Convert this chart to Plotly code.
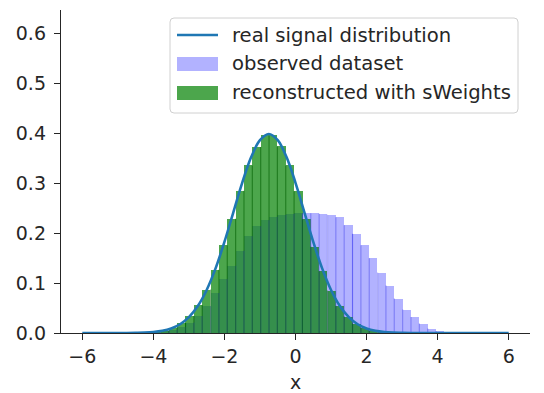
import plotly.graph_objects as go

# ---------------- data ----------------
bin_centers = [-4.15, -3.92, -3.68, -3.45, -3.21, -2.98, -2.74, -2.51, -2.27, -2.04,
               -1.80, -1.57, -1.33, -1.10, -0.86, -0.63, -0.39, -0.16, 0.08, 0.31,
               0.55, 0.78, 1.02, 1.25, 1.49, 1.72, 1.96, 2.19, 2.43, 2.66,
               2.90, 3.13, 3.37, 3.60, 3.84, 4.07, 4.31]
bin_width = 0.235

observed = [0.001, 0.002, 0.004, 0.007, 0.012, 0.021, 0.034, 0.054, 0.080, 0.108,
            0.135, 0.165, 0.194, 0.214, 0.226, 0.233, 0.237, 0.239, 0.240, 0.240,
            0.240, 0.239, 0.237, 0.232, 0.216, 0.199, 0.176, 0.150, 0.121, 0.095,
            0.069, 0.047, 0.032, 0.019, 0.009, 0.004, 0.0015]

reconstructed = [0.001, 0.003, 0.005, 0.011, 0.020, 0.034, 0.056, 0.087, 0.127, 0.176,
                 0.229, 0.285, 0.336, 0.373, 0.396, 0.396, 0.374, 0.336, 0.284, 0.228,
                 0.173, 0.124, 0.085, 0.054, 0.033, 0.019, 0.010, 0.005, 0.003, 0.001,
                 0.0, 0.0, 0.0, 0.0, 0.0, 0.0, 0.0]

curve_x = [-6.0, -4.75, -4.5, -4.25, -4.0, -3.75, -3.5, -3.25, -3.0, -2.75, -2.5,
           -2.25, -2.0, -1.75, -1.5, -1.25, -1.0, -0.75, -0.5, -0.25, 0.0, 0.25,
           0.5, 0.75, 1.0, 1.25, 1.5, 1.75, 2.0, 2.25, 2.5, 2.75, 3.0, 3.25, 6.0]
curve_y = [0.0, 0.0001, 0.0004, 0.0009, 0.0020, 0.0044, 0.0091, 0.0175, 0.0317,
           0.0540, 0.0863, 0.1295, 0.1826, 0.2420, 0.3011, 0.3521, 0.3867, 0.3989,
           0.3867, 0.3521, 0.3011, 0.2420, 0.1826, 0.1295, 0.0863, 0.0540, 0.0317,
           0.0175, 0.0091, 0.0044, 0.0020, 0.0009, 0.0004, 0.0001, 0.0]

x_ticks = [-6, -4, -2, 0, 2, 4, 6]
x_tick_text = ["\u22126", "\u22124", "\u22122", "0", "2", "4", "6"]
y_ticks = [0.0, 0.1, 0.2, 0.3, 0.4, 0.5, 0.6]

legend_labels = ["real signal distribution", "observed dataset", "reconstructed with sWeights"]

# ---------------- styling ----------------
W, H = 544, 393
ML, MR, MT, MB = 61, 14, 10, 60
FONT = "DejaVu Sans"
TXT = "#262626"
BLUE_LINE = "#1f77b4"
LAV = "rgba(0,0,255,0.3)"
GRN = "rgba(0,128,0,0.7)"


def separators(heights):
    """vertical lines at shared bin edges, up to the lower of the two neighbouring bars"""
    xs, ys = [], []
    for i in range(len(heights) - 1):
        h = min(heights[i], heights[i + 1])
        if h <= 0:
            continue
        e = (bin_centers[i] + bin_centers[i + 1]) / 2
        xs += [e, e, None]
        ys += [0, h, None]
    return xs, ys


fig = go.Figure()
fig.add_trace(go.Bar(x=bin_centers, y=observed, width=[bin_width] * len(bin_centers),
                     marker=dict(color=LAV, line=dict(width=0)),
                     name=legend_labels[1], showlegend=False))
sx, sy = separators(observed)
fig.add_trace(go.Scatter(x=sx, y=sy, mode="lines", line=dict(color="rgba(70,70,235,0.45)", width=1.2),
                         showlegend=False, hoverinfo="skip"))
fig.add_trace(go.Bar(x=bin_centers, y=reconstructed, width=[bin_width] * len(bin_centers),
                     marker=dict(color=GRN, line=dict(width=0)),
                     name=legend_labels[2], showlegend=False))
sx, sy = separators(reconstructed)
fig.add_trace(go.Scatter(x=sx, y=sy, mode="lines", line=dict(color="rgba(0,95,0,0.55)", width=1.2),
                         showlegend=False, hoverinfo="skip"))
fig.add_trace(go.Scatter(x=curve_x, y=curve_y, mode="lines",
                         line=dict(color=BLUE_LINE, width=2.6, shape="spline"),
                         name=legend_labels[0], showlegend=False))

plot_w = W - ML - MR
plot_h = H - MT - MB


def px(xp):
    return (xp - ML) / plot_w


def py(yp):
    return (H - MB - yp) / plot_h


# legend box (rounded)
x0, x1, y0, y1, r = 170, 518, 18, 113, 4
path = (f"M {px(x0 + r)},{py(y0)} L {px(x1 - r)},{py(y0)} Q {px(x1)},{py(y0)} {px(x1)},{py(y0 + r)} "
        f"L {px(x1)},{py(y1 - r)} Q {px(x1)},{py(y1)} {px(x1 - r)},{py(y1)} "
        f"L {px(x0 + r)},{py(y1)} Q {px(x0)},{py(y1)} {px(x0)},{py(y1 - r)} "
        f"L {px(x0)},{py(y0 + r)} Q {px(x0)},{py(y0)} {px(x0 + r)},{py(y0)} Z")
shapes = [dict(type="path", xref="paper", yref="paper", path=path,
               fillcolor="rgba(255,255,255,0.8)", line=dict(color="#d0d0d0", width=1), layer="above")]
# handles
shapes.append(dict(type="line", xref="paper", yref="paper", x0=px(177), x1=px(218), y0=py(35), y1=py(35),
                   line=dict(color=BLUE_LINE, width=2.6), layer="above"))
shapes.append(dict(type="rect", xref="paper", yref="paper", x0=px(177), x1=px(218), y0=py(57), y1=py(71),
                   fillcolor=LAV, line=dict(width=0), layer="above"))
shapes.append(dict(type="rect", xref="paper", yref="paper", x0=px(177), x1=px(218), y0=py(86), y1=py(100),
                   fillcolor=GRN, line=dict(width=0), layer="above"))

annotations = []
for lab, yy in zip(legend_labels, [35, 63.5, 92.5]):
    annotations.append(dict(xref="paper", yref="paper", x=px(230), y=py(yy), text=lab, showarrow=False,
                            xanchor="left", yanchor="middle", font=dict(family=FONT, size=19.6, color=TXT)))

fig.update_layout(
    width=W, height=H, margin=dict(l=ML, r=MR, t=MT, b=MB, pad=0, autoexpand=False),
    paper_bgcolor="white", plot_bgcolor="white", barmode="overlay", bargap=0,
    shapes=shapes, annotations=annotations, showlegend=False,
    font=dict(family=FONT, size=19, color=TXT),
)
fig.update_xaxes(range=[-6.6, 6.6], tickvals=x_ticks, ticktext=x_tick_text, showgrid=False, zeroline=False,
                 showline=True, linecolor=TXT, linewidth=1.4, ticks="outside", ticklen=6, tickwidth=1.4,
                 tickcolor=TXT, tickfont=dict(family=FONT, size=19, color=TXT), automargin=False,
                 title=dict(text="x", font=dict(family=FONT, size=19, color=TXT), standoff=13))
fig.update_yaxes(range=[0, 0.6475], tickvals=y_ticks, tickformat=".1f", showgrid=False, zeroline=False,
                 showline=True, linecolor=TXT, linewidth=1.4, ticks="outside", ticklen=6, tickwidth=1.4,
                 tickcolor=TXT, tickfont=dict(family=FONT, size=19, color=TXT), ticklabelstandoff=4,
                 automargin=False)

fig.write_html("out.html")
